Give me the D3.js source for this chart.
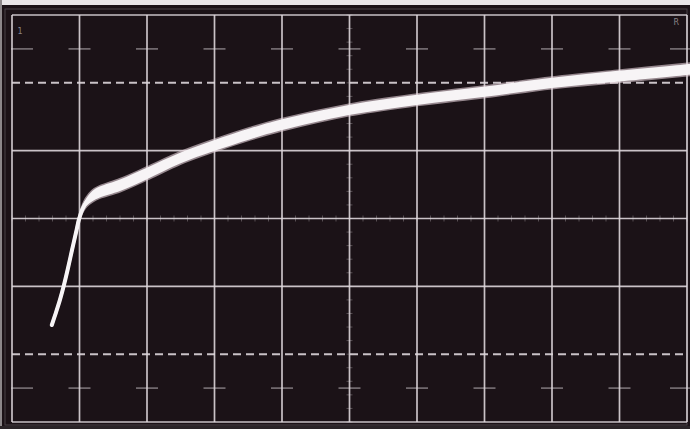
<!DOCTYPE html>
<html><head><meta charset="utf-8">
<script src="https://cdn.jsdelivr.net/npm/d3@7"></script>
<style>html,body{margin:0;padding:0;background:#1b1217;overflow:hidden}</style>
</head><body>
<svg id="c" width="690" height="429"></svg>
<script>
// Trace data (x in horizontal divisions, y in vertical divisions from bottom)
const traceX = [0.59, 0.65, 0.71, 0.77, 0.83, 0.89, 0.95, 0.99, 1.04, 1.10, 1.19, 1.30, 1.60, 1.99, 2.49, 2.98, 3.53, 3.99, 4.99, 6.00, 7.01, 8.00, 9.01, 10.05];
const traceY = [1.43, 1.61, 1.80, 2.02, 2.27, 2.54, 2.80, 2.98, 3.13, 3.24, 3.33, 3.39, 3.49, 3.66, 3.89, 4.07, 4.25, 4.38, 4.60, 4.75, 4.87, 5.00, 5.10, 5.20];
const traceSpread = [0.00, 0.00, 0.00, 0.00, 0.00, 0.00, 0.00, 0.02, 0.06, 0.11, 0.15, 0.16, 0.17, 0.17, 0.16, 0.16, 0.16, 0.16, 0.15, 0.15, 0.15, 0.15, 0.16, 0.16];
const xDivs = [0,1,2,3,4,5,6,7,8,9,10];
const yDivs = [0,1,2,3,4,5,6];
const dashedY = [1,5];
const tickRowY = [0.5,5.5];
const labels = [{t:"1", x:0.08, y:5.72},{t:"R", x:9.8, y:5.85}];

const svg = d3.select("#c");
const W = 690, H = 429;
const x = d3.scaleLinear().domain([0,10]).range([12,687]);
const y = d3.scaleLinear().domain([0,6]).range([422,15]);
const grid = "#ddd6db";

svg.append("rect").attr("width",W).attr("height",H).attr("fill","#1b1217");
// bezel strips
svg.append("rect").attr("x",0).attr("y",0).attr("width",W).attr("height",5).attr("fill","#e9e6e8");
svg.append("rect").attr("x",0).attr("y",0).attr("width",2).attr("height",H).attr("fill","#8c878a");
svg.append("rect").attr("x",0).attr("y",426).attr("width",W).attr("height",3).attr("fill","#2a2428");
svg.append("rect").attr("x",5).attr("y",9).attr("width",682).attr("height",416)
  .attr("fill","none").attr("stroke","#4a4248").attr("stroke-width",1);

// solid grid lines
const gx = svg.append("g");
xDivs.forEach(d => gx.append("line").attr("x1",x(d)).attr("x2",x(d)).attr("y1",y(6)).attr("y2",y(0))
  .attr("stroke",grid).attr("stroke-width",1.7).attr("opacity",0.9));
yDivs.filter(d => !dashedY.includes(d)).forEach(d => gx.append("line").attr("x1",x(0)).attr("x2",x(10)).attr("y1",y(d)).attr("y2",y(d))
  .attr("stroke",grid).attr("stroke-width",1.7).attr("opacity",0.9));
dashedY.forEach(d => gx.append("line").attr("x1",x(0)).attr("x2",x(10)).attr("y1",y(d)).attr("y2",y(d))
  .attr("stroke",grid).attr("stroke-width",2).attr("stroke-dasharray","8,5").attr("opacity",0.9));
// half-division tick rows
tickRowY.forEach(r => xDivs.forEach(d => {
  const cx = d === 0 ? x(0) + 10 : (d === 10 ? x(10) - 6 : x(d));
  gx.append("line").attr("x1",cx-11).attr("x2",cx+11).attr("y1",y(r)).attr("y2",y(r))
    .attr("stroke",grid).attr("stroke-width",1.3).attr("opacity",0.6);
}));
// minor ticks along centre axes
d3.range(0,10.01,0.2).forEach(m => gx.append("line").attr("x1",x(m)).attr("x2",x(m)).attr("y1",y(3)-3).attr("y2",y(3)+3)
  .attr("stroke",grid).attr("stroke-width",1).attr("opacity",0.3));
d3.range(0,6.01,0.2).forEach(m => gx.append("line").attr("x1",x(5)-3).attr("x2",x(5)+3).attr("y1",y(m)).attr("y2",y(m))
  .attr("stroke",grid).attr("stroke-width",1).attr("opacity",0.3));

labels.forEach(l => svg.append("text").attr("x",x(l.x)).attr("y",y(l.y)).text(l.t)
  .attr("font-family","DejaVu Sans").attr("font-size",8).attr("fill","#8a8288"));

// trace
const pts = traceX.map((d,i) => ({x:d, y:traceY[i], s:traceSpread[i]}));
const crv = d3.curveCatmullRom.alpha(0.5);
const area = d3.area().x(d => x(d.x)).y0(d => y(d.y - d.s/2) ).y1(d => y(d.y + d.s/2)).curve(crv);
const line = d3.line().x(d => x(d.x)).y(d => y(d.y)).curve(crv);
svg.append("path").datum(pts).attr("d",area).attr("fill","#f1e6ec").attr("stroke","#e8d6de").attr("stroke-width",3).attr("opacity",0.6);
svg.append("path").datum(pts).attr("d",area).attr("fill","#f7f4f6");
svg.append("path").datum(pts).attr("d",line).attr("fill","none").attr("stroke","#f7f4f6").attr("stroke-width",4).attr("stroke-linecap","round");
</script>
</body></html>
